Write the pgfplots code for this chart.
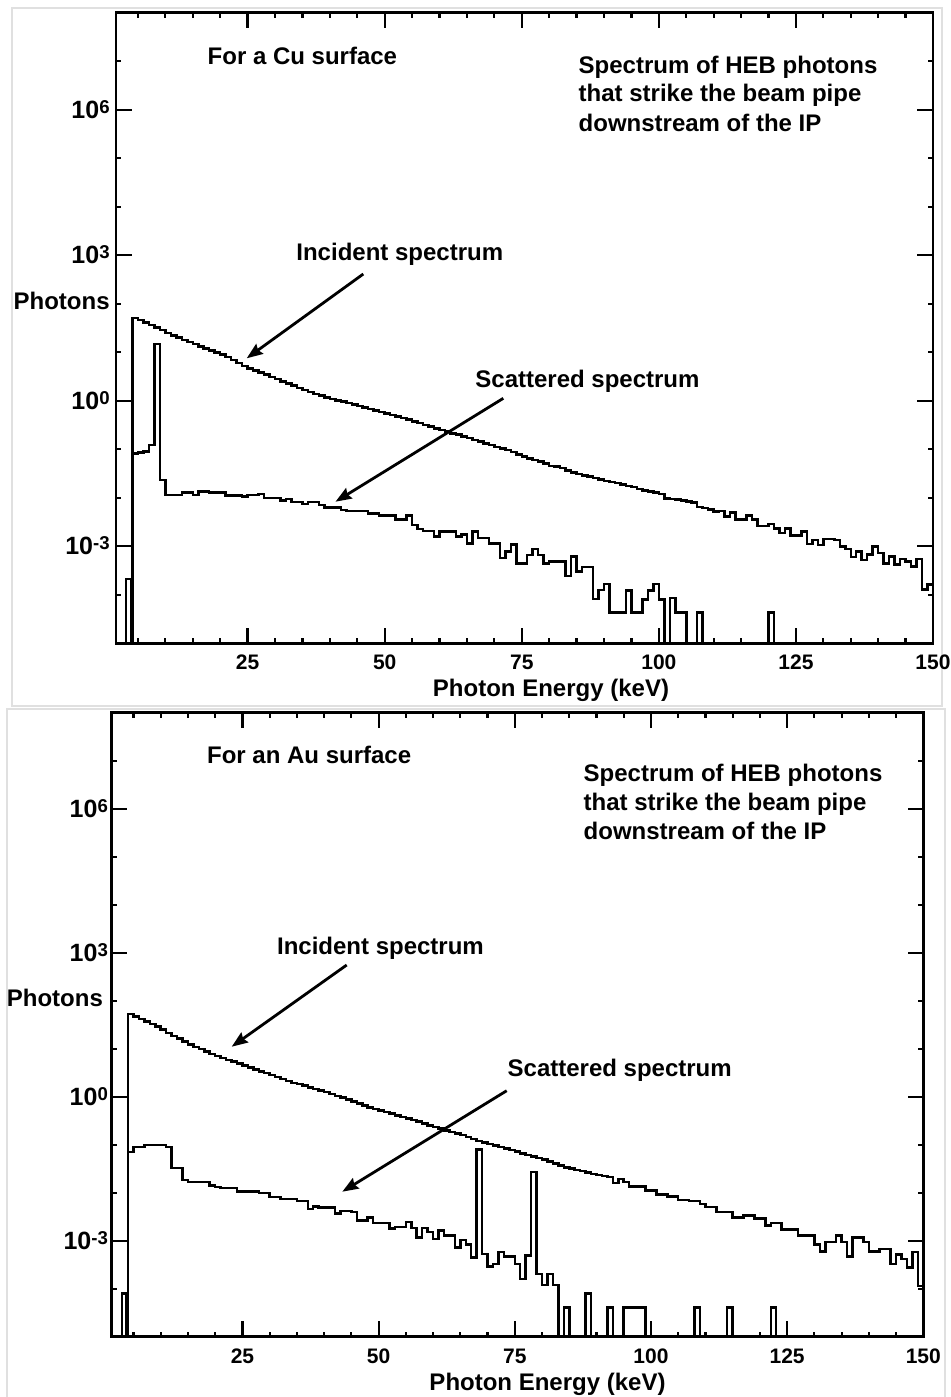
\documentclass[border=0pt]{standalone}
\usepackage{pgfplots}
\pgfplotsset{compat=1.18}
\usepackage{pgfplotstable}
\usepackage{fontspec}
\setmainfont{Liberation Sans}
\usetikzlibrary{arrows.meta}

% log10(photons) per 1 keV bin, E = left edge of bin; -9 = empty bin
\pgfplotstableread{
E L
3 -9
4 1.71
5 1.66
6 1.61
7 1.56
8 1.51
9 1.46
10 1.40
11 1.35
12 1.30
13 1.25
14 1.21
15 1.17
16 1.12
17 1.08
18 1.04
19 0.99
20 0.95
21 0.90
22 0.84
23 0.78
24 0.72
25 0.67
26 0.62
27 0.58
28 0.54
29 0.49
30 0.45
31 0.40
32 0.36
33 0.31
34 0.26
35 0.22
36 0.18
37 0.14
38 0.11
39 0.07
40 0.04
41 0.01
42 -0.02
43 -0.05
44 -0.08
45 -0.11
46 -0.14
47 -0.17
48 -0.20
49 -0.23
50 -0.26
51 -0.29
52 -0.32
53 -0.36
54 -0.39
55 -0.43
56 -0.46
57 -0.50
58 -0.53
59 -0.57
60 -0.60
61 -0.63
62 -0.67
63 -0.70
64 -0.74
65 -0.77
66 -0.81
67 -0.84
68 -0.88
69 -0.91
70 -0.95
71 -0.98
72 -1.02
73 -1.06
74 -1.11
75 -1.15
76 -1.19
77 -1.22
78 -1.25
79 -1.29
80 -1.34
81 -1.36
82 -1.39
83 -1.44
84 -1.48
85 -1.51
86 -1.54
87 -1.56
88 -1.59
89 -1.62
90 -1.65
91 -1.67
92 -1.70
93 -1.73
94 -1.76
95 -1.78
96 -1.82
97 -1.85
98 -1.87
99 -1.89
100 -1.92
101 -2.01
102 -2.03
103 -2.04
104 -2.06
105 -2.08
106 -2.10
107 -2.19
108 -2.21
109 -2.24
110 -2.28
111 -2.27
112 -2.39
113 -2.30
114 -2.45
115 -2.45
116 -2.37
117 -2.45
118 -2.58
119 -2.58
120 -2.54
121 -2.63
122 -2.73
123 -2.63
124 -2.78
125 -2.78
126 -2.69
127 -2.95
128 -2.87
129 -2.97
130 -2.85
131 -2.85
132 -2.87
133 -3.00
134 -3.06
135 -3.22
136 -3.11
137 -3.28
138 -3.17
139 -3.00
140 -3.14
141 -3.35
142 -3.21
143 -3.38
144 -3.26
145 -3.31
146 -3.42
147 -3.26
148 -3.89
149 -3.79
150 -3.79
}\cuinc

\pgfplotstableread{
E L
2 -9
2.8 -3.67
3.7 -9
4 -1.09
5 -1.07
6 -1.05
7 -0.91
8 1.17
9 -1.63
10 -1.94
11 -1.94
12 -1.94
13 -1.89
14 -1.89
15 -1.94
16 -1.87
17 -1.87
18 -1.89
19 -1.89
20 -1.89
21 -1.95
22 -1.95
23 -1.95
24 -1.97
25 -1.94
26 -1.94
27 -1.92
28 -2.00
29 -2.00
30 -2.00
31 -2.06
32 -2.02
33 -2.09
34 -2.09
35 -2.13
36 -2.09
37 -2.09
38 -2.15
39 -2.20
40 -2.20
41 -2.20
42 -2.25
43 -2.27
44 -2.27
45 -2.27
46 -2.27
47 -2.32
48 -2.32
49 -2.37
50 -2.37
51 -2.37
52 -2.45
53 -2.45
54 -2.37
55 -2.56
56 -2.64
57 -2.68
58 -2.68
59 -2.80
60 -2.70
61 -2.70
62 -2.70
63 -2.80
64 -2.76
65 -2.94
66 -2.70
67 -2.83
68 -2.83
69 -2.94
70 -2.94
71 -3.24
72 -3.11
73 -2.96
74 -3.35
75 -3.35
76 -3.18
77 -3.06
78 -3.18
79 -3.35
80 -3.31
81 -3.31
82 -3.31
83 -3.61
84 -3.21
85 -3.52
86 -3.43
87 -3.43
88 -4.09
89 -3.90
90 -3.78
91 -4.37
92 -4.37
93 -4.37
94 -3.91
95 -4.37
96 -4.37
97 -4.10
98 -3.91
99 -3.78
100 -4.10
101 -9
102 -4.07
103 -4.37
104 -4.37
105 -9
107 -4.37
108 -9
120 -4.37
121 -9
150 -9
}\cusca

\pgfplotstableread{
E L
3 -9
4 1.72
5 1.67
6 1.62
7 1.57
8 1.52
9 1.46
10 1.40
11 1.33
12 1.27
13 1.21
14 1.15
15 1.09
16 1.04
17 0.99
18 0.94
19 0.89
20 0.85
21 0.81
22 0.77
23 0.73
24 0.69
25 0.65
26 0.61
27 0.57
28 0.53
29 0.49
30 0.45
31 0.41
32 0.37
33 0.33
34 0.29
35 0.26
36 0.23
37 0.19
38 0.16
39 0.13
40 0.10
41 0.06
42 0.02
43 -0.02
44 -0.06
45 -0.10
46 -0.14
47 -0.18
48 -0.22
49 -0.26
50 -0.29
51 -0.32
52 -0.35
53 -0.39
54 -0.42
55 -0.45
56 -0.49
57 -0.52
58 -0.56
59 -0.60
60 -0.63
61 -0.66
62 -0.70
63 -0.73
64 -0.77
65 -0.80
66 -0.84
67 -0.88
68 -0.92
69 -0.95
70 -0.99
71 -1.02
72 -1.05
73 -1.08
74 -1.11
75 -1.14
76 -1.18
77 -1.21
78 -1.25
79 -1.28
80 -1.31
81 -1.35
82 -1.39
83 -1.43
84 -1.47
85 -1.50
86 -1.53
87 -1.55
88 -1.58
89 -1.61
90 -1.63
91 -1.65
92 -1.67
93 -1.80
94 -1.71
95 -1.78
96 -1.87
97 -1.87
98 -1.87
99 -1.95
100 -1.95
101 -2.04
102 -2.04
103 -2.08
104 -2.08
105 -2.15
106 -2.15
107 -2.17
108 -2.17
109 -2.24
110 -2.30
111 -2.30
112 -2.40
113 -2.40
114 -2.40
115 -2.52
116 -2.52
117 -2.47
118 -2.47
119 -2.54
120 -2.54
121 -2.68
122 -2.63
123 -2.63
124 -2.77
125 -2.77
126 -2.77
127 -2.89
128 -2.89
129 -2.89
130 -3.08
131 -3.22
132 -3.03
133 -3.03
134 -2.89
135 -3.03
136 -3.33
137 -2.93
138 -2.93
139 -3.03
140 -3.22
141 -3.22
142 -3.17
143 -3.17
144 -3.49
145 -3.29
146 -3.38
147 -3.56
148 -3.24
149 -3.94
150 -3.94
}\auinc

\pgfplotstableread{
E L
2 -9
2.9 -4.10
3.7 -9
4 -1.15
5 -1.05
6 -1.05
7 -1.01
8 -1.01
9 -1.01
10 -1.01
11 -1.05
12 -1.48
13 -1.48
14 -1.73
15 -1.78
16 -1.78
17 -1.78
18 -1.78
19 -1.85
20 -1.88
21 -1.90
22 -1.90
23 -1.90
24 -1.97
25 -1.97
26 -1.97
27 -1.97
28 -2.01
29 -2.01
30 -2.09
31 -2.09
32 -2.13
33 -2.13
34 -2.13
35 -2.17
36 -2.17
37 -2.34
38 -2.29
39 -2.31
40 -2.31
41 -2.31
42 -2.43
43 -2.38
44 -2.38
45 -2.40
46 -2.58
47 -2.58
48 -2.52
49 -2.63
50 -2.63
51 -2.63
52 -2.75
53 -2.71
54 -2.71
55 -2.61
56 -2.73
57 -2.93
58 -2.73
59 -2.82
60 -2.96
61 -2.79
62 -2.89
63 -2.89
64 -3.14
65 -2.98
66 -3.08
67 -3.35
68 -1.10
69 -3.28
70 -3.54
71 -3.49
72 -3.24
73 -3.33
74 -3.33
75 -3.49
76 -3.80
77 -3.31
78 -1.57
79 -3.69
80 -3.92
81 -3.69
82 -3.92
83 -9
84 -4.39
85 -9
88 -4.10
89 -9
92 -4.39
93 -9
95 -4.39
99 -9
108 -4.39
109 -9
114 -4.39
115 -9
122 -4.39
123 -9
150 -9
}\ausca

% 10 with a raised exponent, exponent kept out of the box height
\newcommand{\pw}[1]{10\smash{\raisebox{2.5pt}{\fontsize{9.3}{9.3}\selectfont #1}}}

\pgfplotsset{
  spec/.style={
    scale only axis, anchor=north west,
    xmin=1, xmax=150, ymin=-5, ymax=8,
    axis line style={line width=1.3pt},
    tick style={black, line width=1.1pt},
    major tick length=7.8pt, minor tick length=2.6pt,
    xtick={25,50,75,100,125,150},
    xticklabels={25,50,75,100,125,150},
    minor xtick={5,10,...,145},
    ytick={-3,0,3,6},
    yticklabels={\pw{-3},\pw{0},\pw{3},\pw{6}},
    minor ytick={-5,-4,...,8},
    xticklabel style={font=\bfseries\fontsize{10.5}{12}\selectfont, inner sep=0pt, anchor=north, yshift=-5.8pt},
    yticklabel style={font=\bfseries\fontsize{12.5}{14}\selectfont, inner sep=0pt, anchor=east},
  },
  hist/.style={black, line width=1.25pt, const plot mark left, line join=miter},
}

\begin{document}
\begin{tikzpicture}
\path[use as bounding box] (0,0) rectangle (475.5pt,-698.5pt);

% screenshot frames, behind everything
\begin{scope}[x=0.5pt, y=-0.5pt]
  \draw[black!12, line width=0.8pt] (12,8) rectangle (942,706);
  \draw[black!12, line width=0.8pt] (7,1397) -- (7,709) -- (945,709) -- (945,1397);
\end{scope}

\begin{axis}[spec, at={(58pt,-6.35pt)}, width=408.5pt, height=315.3pt,
  yticklabel style={xshift=-3pt}]
\addplot[hist] table[x=E, y=L] {\cuinc};
\addplot[hist] table[x=E, y=L] {\cusca};
\end{axis}

\begin{axis}[spec, at={(55.85pt,-356.35pt)}, width=405.8pt, height=312pt,
  yticklabel style={xshift=-1.7pt}]
\addplot[hist] table[x=E, y=L] {\auinc};
\addplot[hist] table[x=E, y=L] {\ausca};
\end{axis}

\begin{scope}[x=0.5pt, y=-0.5pt, every node/.style={inner sep=0pt, font=\bfseries\fontsize{12}{14.5}\selectfont}]
  % top panel
  \node[anchor=base west] at (207.3,64) {For a Cu surface};
  \node[anchor=base west] at (578.3,73.8) {Spectrum of HEB photons};
  \node[anchor=base west] at (578.3,101.7) {that strike the beam pipe};
  \node[anchor=base west] at (578.3,131.7) {downstream of the IP};
  \node[anchor=base west] at (296,260) {Incident spectrum};
  \node[anchor=base west] at (475,387.3) {Scattered spectrum};
  \node[anchor=base east] at (110,309.3) {Photons};
  \node[anchor=base] at (551,696.7) {Photon Energy (keV)};
  \draw[line width=1.4pt, -{Stealth[length=8pt, width=6pt, inset=1pt]}] (363.3,274) -- (246.7,358.3);
  \draw[line width=1.4pt, -{Stealth[length=8pt, width=6pt, inset=1pt]}] (503.3,398.3) -- (335.5,501.7);

  % bottom panel
  \node[anchor=base west] at (206.7,763.3) {For an Au surface};
  \node[anchor=base west] at (583.3,781.7) {Spectrum of HEB photons};
  \node[anchor=base west] at (583.3,810) {that strike the beam pipe};
  \node[anchor=base west] at (583.3,839.3) {downstream of the IP};
  \node[anchor=base west] at (276.7,954) {Incident spectrum};
  \node[anchor=base west] at (507.3,1076.7) {Scattered spectrum};
  \node[anchor=base east] at (103.3,1006) {Photons};
  \node[anchor=base] at (547.5,1390) {Photon Energy (keV)};
  \draw[line width=1.4pt, -{Stealth[length=8pt, width=6pt, inset=1pt]}] (346.7,965) -- (231.7,1046.7);
  \draw[line width=1.4pt, -{Stealth[length=8pt, width=6pt, inset=1pt]}] (506.7,1090.7) -- (342.3,1191.7);
\end{scope}
\end{tikzpicture}
\end{document}
